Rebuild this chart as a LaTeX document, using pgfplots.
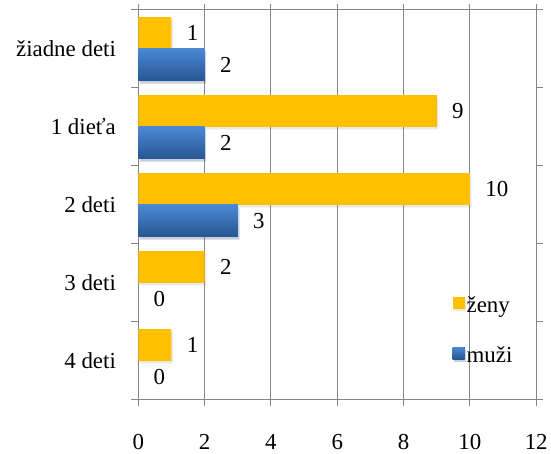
\documentclass[border=0pt]{standalone}
\usepackage{fontspec}
\setmainfont{Liberation Serif}
\usepackage{pgfplots}
\pgfplotsset{compat=1.18}
\usetikzlibrary{shadows}
\definecolor{zen}{RGB}{255,192,0}
\definecolor{mtop}{RGB}{74,136,212}
\definecolor{mbot}{RGB}{40,86,146}
\definecolor{gr}{RGB}{134,134,134}
\tikzset{barshadow/.style={drop shadow={opacity=0.18, shadow xshift=1.5pt, shadow yshift=-2.5pt}}}
\begin{document}
\begin{tikzpicture}[font=\rmfamily\fontsize{23}{27}\selectfont]
\begin{axis}[
  scale only axis, width=400pt, height=392pt,
  xmin=0, xmax=12, ymin=-0.5, ymax=4.5,
  xtick={0,2,...,12},
  ytick={0,1,2,3,4},
  yticklabels={4 deti,3 deti,2 deti,1 dieťa,žiadne deti},
  minor ytick={-0.5,0.5,...,4.5},
  tick align=outside,
  major tick length=6pt,
  minor tick length=7pt,
  major y tick style={draw=none},
  minor y tick style={draw=gr, line width=1pt},
  major x tick style={draw=gr, line width=1pt},
  xmajorgrids,
  major x grid style={gr, line width=1pt},
  axis line style={gr, line width=1pt},
  /pgf/number format/assume math mode=true,
  tick label style={font=\rmfamily\fontsize{23}{27}\selectfont},
  x tick label style={yshift=-25pt},
  y tick label style={xshift=-13pt},
  xbar, bar width=32pt,
  nodes near coords,
  nodes near coords style={anchor=west, xshift=12pt, black, font=\rmfamily\fontsize{23}{27}\selectfont},
  legend style={draw=none, fill=none, at={(0.782,0.277)}, anchor=north west,
    row sep=29pt, font=\rmfamily\fontsize{23}{27}\selectfont},
  legend cell align=left,
  legend image code/.code={\fill[#1] (0pt,-4pt) rectangle (12pt,8pt);},
]
\addplot[fill=zen, draw=none, barshadow, bar shift=16pt] coordinates {(1,4) (9,3) (10,2) (2,1) (1,0)};
\addplot[top color=mtop, bottom color=mbot, draw=none, barshadow, bar shift=-16pt] coordinates {(2,4)};
\addplot[forget plot, top color=mtop, bottom color=mbot, draw=none, barshadow, bar shift=-16pt] coordinates {(2,3)};
\addplot[forget plot, top color=mtop, bottom color=mbot, draw=none, barshadow, bar shift=-16pt] coordinates {(3,2)};
\addplot[forget plot, top color=mtop, bottom color=mbot, draw=none, bar shift=-16pt] coordinates {(0,1)};
\addplot[forget plot, top color=mtop, bottom color=mbot, draw=none, bar shift=-16pt] coordinates {(0,0)};
\legend{ženy, muži}
\end{axis}
\path ([shift={(-139pt,-48pt)}]current axis.south west) rectangle ([shift={(12pt,10pt)}]current axis.north east);
\end{tikzpicture}
\end{document}
